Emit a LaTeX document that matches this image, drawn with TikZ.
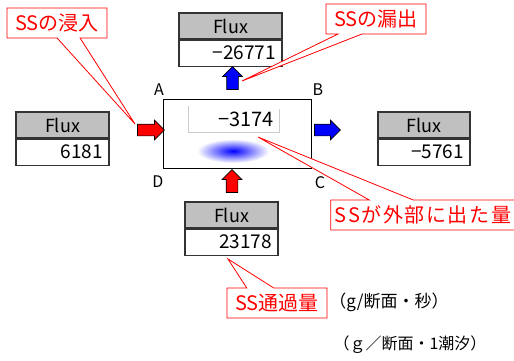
\documentclass[tikz,border=0pt]{standalone}
\usepackage{fontspec}
\setmainfont{Noto Sans CJK JP}
\usetikzlibrary{positioning,shapes.arrows,shapes.callouts}
\definecolor{hdrgray}{RGB}{192,192,192}
\definecolor{ssred}{RGB}{255,0,0}
\definecolor{ssblue}{RGB}{0,0,255}

\begin{document}
\begin{tikzpicture}[x=1pt,y=-1pt,
    fluxhead/.style={draw=black!80,line width=1.1pt,fill=hdrgray,minimum width=#1,
        minimum height=26pt,inner sep=0pt,font=\fontsize{18}{18}\selectfont},
    fluxval/.style={draw=black!80,line width=1.1pt,fill=white,text width=#1,align=right,
        minimum height=26pt,inner xsep=6pt,inner ysep=0pt,font=\fontsize{19}{19}\selectfont},
    redarrow/.style={single arrow,draw=black,line width=0.7pt,fill=ssred,inner sep=5.5pt,
        minimum height=#1,single arrow head extend=4pt,single arrow head indent=0pt},
    bluearrow/.style={redarrow=#1,fill=ssblue},
    corner/.style={font=\fontsize{16}{16}\selectfont},
    sscallout/.style={rectangle callout,draw=ssred,fill=white,text=ssred,line width=0.8pt,
        minimum width=100pt,minimum height=30pt,inner xsep=4pt,
        font=\fontsize{20}{20}\selectfont}]
    \useasboundingbox (0,0) rectangle (514,360);
    % flux tables
    \node[fluxhead=93pt] (leftH) at (62.5,125) {Flux};
    \node[fluxval=81pt,below=0pt of leftH] (leftV) {6181};
    \node[fluxhead=103pt] (topH) at (230.5,26) {Flux};
    \node[fluxval=91pt,below=0pt of topH] (topV) {\char"2212 26771};
    \node[fluxhead=92pt] (rightH) at (424,125) {Flux};
    \node[fluxval=80pt,below=0pt of rightH] (rightV) {\char"2212 5761};
    \node[fluxhead=93pt] (botH) at (231.5,215) {Flux};
    \node[fluxval=81pt,below=0pt of botH] (botV) {23178};
    % section box
    \shade[inner color=ssblue,outer color=white] (233,151) ellipse (36 and 12);
    \node[draw,line width=0.8pt,minimum width=148pt,minimum height=69pt] (sect) at (237,133.5) {};
    \node[minimum width=90pt,minimum height=26pt,text width=80pt,align=right,inner xsep=5pt,
        font=\fontsize{20}{20}\selectfont] (inval) at (234,119) {\char"2212 3174};
    \draw[black!20,line width=0.8pt] (inval.north west) -- (inval.south west)
        -- (inval.south east) -- ([yshift=-3pt]inval.north east);
    \node[corner] (cA) at (159,90) {A};
    \node[corner] (cB) at (318,90) {B};
    \node[corner] (cC) at (320,183) {C};
    \node[corner] (cD) at (158,182) {D};
    % flux arrows
    \node[redarrow=27pt] (arrL) at (148,130) {};
    \node[bluearrow=26pt] (arrR) at (324.5,130) {};
    \node[bluearrow=23pt,shape border rotate=90] (arrT) at (232.5,81) {};
    \node[redarrow=23pt,shape border rotate=90] (arrB) at (232,184) {};
    % callouts
    \coordinate (tipIn) at (135,124);
    \coordinate (tipOut) at (242,81);
    \coordinate (tipExt) at (258,137);
    \coordinate (tipPass) at (228,259);
    \node[sscallout,callout absolute pointer={(tipIn)},callout pointer width=23pt] (cIn) at (57,23) {SSの浸入};
    \node[sscallout,callout absolute pointer={(tipOut)},callout pointer width=24pt] (cOut) at (376,19) {SSの漏出};
    \node[sscallout,callout absolute pointer={(tipExt)},callout pointer width=44pt,
        font=\fontsize{20}{20}\selectfont\addfontfeatures{LetterSpace=8}] (cExt) at (423,215) {SSが外部に出た量};
    \node[sscallout,callout absolute pointer={(tipPass)},callout pointer width=27pt] (cPass) at (277,303) {SS通過量};
    % units
    \node[font=\fontsize{17}{17}\selectfont] (unitSec) at (389,302) {（g/断面・秒）};
    \node[font=\fontsize{16}{16}\selectfont] (unitTide) at (410,345) {（ｇ／断面・1潮汐）};
\end{tikzpicture}
\end{document}
